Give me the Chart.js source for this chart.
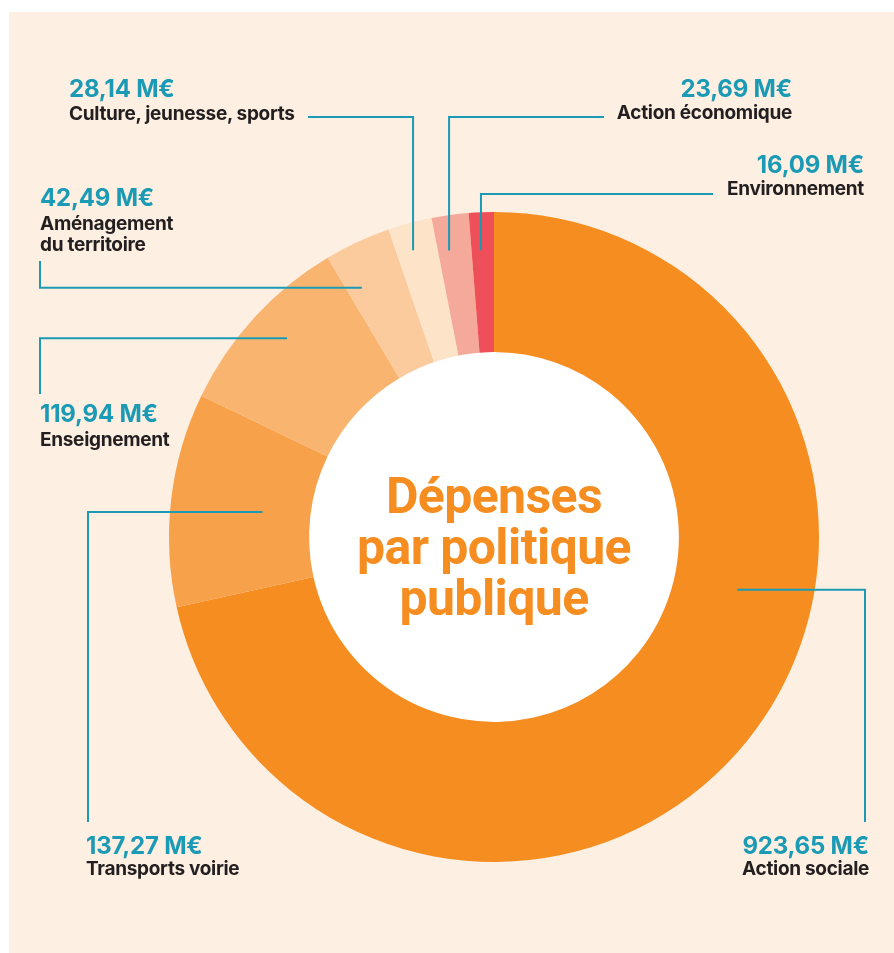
<!DOCTYPE html>
<html lang="fr">
<head>
<meta charset="utf-8">
<script src="https://cdn.jsdelivr.net/npm/chart.js@4.4.1/dist/chart.umd.min.js"></script>
<style>
    html, body { margin: 0; padding: 0; background: #fff; }
    #stage { position: relative; width: 894px; height: 953px; overflow: hidden; }
    #panel { position: absolute; left: 9px; top: 12px; width: 885px; height: 941px; background: #FDEFE1; }
    #chart { position: absolute; left: 0; top: 0; }
    .lbl { position: absolute; white-space: nowrap; font-family: Inter, 'Noto Sans', sans-serif; font-weight: 700; line-height: normal; }
    .val { font-size: 24px; color: #1B9AB5; letter-spacing: -0.2px; }
    .name { font-size: 19px; color: #231F20; letter-spacing: -0.3px; }
    .title { position: absolute; left: 294px; width: 400px; text-align: center; font-family: Roboto, 'Liberation Sans', sans-serif; font-weight: 700; font-size: 50px; color: #F58D21; letter-spacing: -0.6px; line-height: normal; white-space: nowrap; }
</style>
</head>
<body>
<div id="stage">
    <div id="panel"></div>
    <canvas id="chart" width="894" height="953"></canvas>
</div>
<script>
// Dépenses par politique publique (M€)
const categories = ['Action sociale', 'Transports voirie', 'Enseignement', 'Aménagement du territoire', 'Culture, jeunesse, sports', 'Action économique', 'Environnement'];
const amounts = [923.65, 137.27, 119.94, 42.49, 28.14, 23.69, 16.09];
const sliceColors = ['#F58D20', '#F7A14A', '#F9B470', '#FCCB9D', '#FDE3C8', '#F4A99B', '#EE4F58'];
const titleLines = ['Dépenses', 'par politique', 'publique'];

// label placement (baselines) + leader routing
const labelLayout = [
    { x: 869, align: 'right', valueY: 854, names: ['Action sociale'], nameY: [875], leader: { frac: 0.397, r: 249, dir: 'h', to: [865, 822] } },
    { x: 86, align: 'left', valueY: 854, names: ['Transports voirie'], nameY: [875], leader: { frac: 0.487, r: 233, dir: 'h', to: [88, 822] } },
    { x: 40, align: 'left', valueY: 422, names: ['Enseignement'], nameY: [446], leader: { frac: 0.54, r: 287, dir: 'h', to: [40, 394] } },
    { x: 40, align: 'left', valueY: 206, names: ['Aménagement', 'du territoire'], nameY: [230, 251], leader: { frac: 0.24, r: 282, dir: 'h', to: [40, 261] } },
    { x: 69, align: 'left', valueY: 97, names: ['Culture, jeunesse, sports'], nameY: [120], leader: { frac: 0.405, r: 298, dir: 'v', to: [308, 117] } },
    { x: 792, align: 'right', valueY: 97, names: ['Action économique'], nameY: [119], leader: { frac: 0.33, r: 290, dir: 'v', to: [604, 117] } },
    { x: 864, align: 'right', valueY: 173, names: ['Environnement'], nameY: [195], leader: { frac: 0.42, r: 287, dir: 'v', to: [713, 194] } }
];

const stage = document.getElementById('stage');

function addText(text, cls, x, align, baseline, size) {
    const d = document.createElement('div');
    d.className = 'lbl ' + cls;
    d.textContent = text;
    d.style.top = (baseline - 0.969 * size) + 'px';
    if (align === 'right') {
        d.style.right = (894 - x) + 'px';
        d.style.textAlign = 'right';
    } else {
        d.style.left = x + 'px';
    }
    stage.appendChild(d);
}

amounts.forEach((v, i) => {
    const l = labelLayout[i];
    addText(v.toFixed(2).replace('.', ',') + ' M€', 'val', l.x, l.align, l.valueY, 24);
    l.names.forEach((n, k) => addText(n, 'name', l.x, l.align, l.nameY[k], 19));
});

titleLines.forEach((t, k) => {
    const d = document.createElement('div');
    d.className = 'title';
    d.textContent = t;
    d.style.top = (513 + k * 51 - 0.928 * 50) + 'px';
    stage.appendChild(d);
});

// white hole + leader lines
const decorations = {
    id: 'decorations',
    beforeDatasetsDraw(chart) {
        const arc = chart.getDatasetMeta(0).data[0];
        const ctx = chart.ctx;
        ctx.save();
        ctx.fillStyle = '#FFFFFF';
        ctx.beginPath();
        ctx.arc(arc.x, arc.y, arc.innerRadius, 0, Math.PI * 2);
        ctx.fill();
        ctx.restore();
    },
    afterDatasetsDraw(chart) {
        const ctx = chart.ctx;
        ctx.save();
        ctx.strokeStyle = '#1B9AB5';
        ctx.lineWidth = 2;
        chart.getDatasetMeta(0).data.forEach((arc, i) => {
            const ld = labelLayout[i].leader;
            const a = arc.startAngle + ld.frac * (arc.endAngle - arc.startAngle);
            const ax = arc.x + ld.r * Math.cos(a);
            const ay = arc.y + ld.r * Math.sin(a);
            ctx.beginPath();
            ctx.moveTo(ax, ay);
            if (ld.dir === 'h') {
                ctx.lineTo(ld.to[0], ay);
                ctx.lineTo(ld.to[0], ld.to[1]);
            } else {
                ctx.lineTo(ax, ld.to[1]);
                ctx.lineTo(ld.to[0], ld.to[1]);
            }
            ctx.stroke();
        });
        ctx.restore();
    }
};

const depensesChart = new Chart(document.getElementById('chart'), {
    type: 'doughnut',
    data: {
        labels: categories,
        datasets: [{
            data: amounts,
            backgroundColor: sliceColors,
            borderWidth: 0,
            hoverBorderWidth: 0,
            hoverOffset: 0
        }]
    },
    options: {
        responsive: false,
        animation: false,
        cutout: '56.9%',
        layout: {
            padding: { left: 169, right: 75, top: 212, bottom: 91 }
        },
        plugins: {
            legend: { display: false },
            tooltip: { enabled: false }
        }
    },
    plugins: [decorations]
});
</script>
</body>
</html>
